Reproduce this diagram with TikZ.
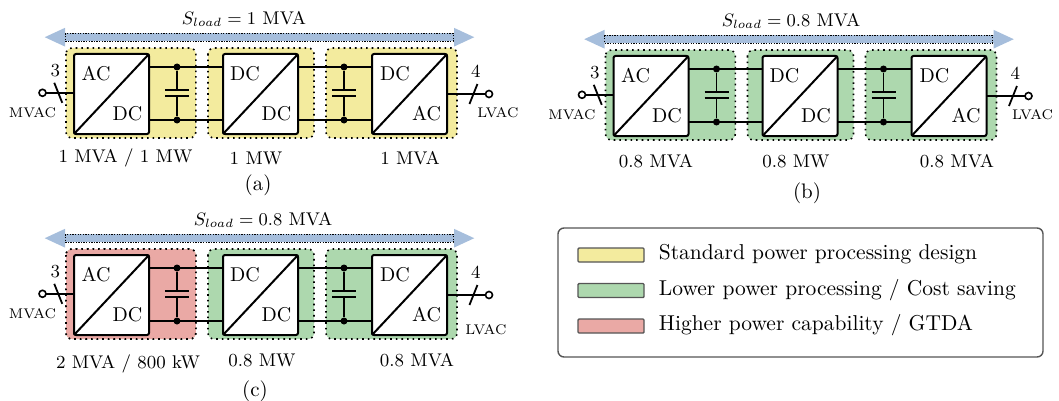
\documentclass[tikz,border=0pt]{standalone}
\usetikzlibrary{arrows.meta,positioning,calc,backgrounds}
\definecolor{standard}{HTML}{F3EB9E}
\definecolor{lower}{HTML}{ADD8AE}
\definecolor{higher}{HTML}{EAA9A5}
\definecolor{flow}{HTML}{A6BEDC}
\definecolor{frame}{HTML}{555555}
\tikzset{conv/.style={draw,line width=1pt,rounded corners=1pt,fill=white,minimum width=37.5pt,minimum height=40pt,inner sep=0pt,outer sep=0pt},wire/.style={line width=.9pt},port/.style={font=\fontsize{10}{12}\selectfont,inner sep=0pt},zone/.style={dotted,line width=.8pt,rounded corners=3pt},dotnode/.style={circle,fill,inner sep=0pt,minimum size=3.5pt},term/.style={circle,draw,line width=.8pt,fill=white,inner sep=0pt,minimum size=3.5pt,outer sep=0pt},tag/.style={font=\fontsize{7}{9}\selectfont,inner sep=0pt},lbl/.style={font=\fontsize{9.2}{12}\selectfont,inner sep=0pt},capt/.style={font=\fontsize{10.5}{12}\selectfont,inner sep=0pt},swatch/.style={draw=frame,line width=.7pt,rounded corners=.5pt,minimum width=33pt,minimum height=7pt,inner sep=0pt,outer sep=0pt},legtext/.style={font=\fontsize{10.75}{12}\selectfont,inner sep=0pt,text height=1.6ex,text depth=.5ex,anchor=west},band/.style={{Triangle[length=10.5pt,width=8.5pt]}-{Triangle[length=10.5pt,width=8.5pt]},line width=3.8pt,draw=flow,fill=flow},outline/.style={dash pattern=on .65pt off .65pt,line width=.45pt}}
\newcommand{\powerchain}[4]{%
\node[conv] (#1c1) at (#2,#3) {};\node[conv,right=37pt of #1c1] (#1c2) {};\node[conv,right=37pt of #1c2] (#1c3) {};
\foreach \c in {1,2,3} \draw[conv,fill=none] (#1c\c.south west) -- (#1c\c.north east);
\node[port] (#1t1) at ([shift={(-7.75pt,10pt)}]#1c1.center) {AC};\node[port] (#1b1) at ([shift={(8pt,-10pt)}]#1c1.center) {DC};
\node[port] (#1t2) at ([shift={(-7.75pt,10pt)}]#1c2.center) {DC};\node[port] (#1b2) at ([shift={(8pt,-10pt)}]#1c2.center) {DC};
\node[port] (#1t3) at ([shift={(-7.25pt,10pt)}]#1c3.center) {DC};\node[port] (#1b3) at ([shift={(8.5pt,-10pt)}]#1c3.center) {AC};
\coordinate (#1e1t) at ([yshift=13.5pt]#1c1.east);\coordinate (#1e1b) at ([yshift=-13pt]#1c1.east);\coordinate (#1w2t) at ([yshift=13.5pt]#1c2.west);\coordinate (#1w2b) at ([yshift=-13pt]#1c2.west);
\coordinate (#1e2t) at ([yshift=13.5pt]#1c2.east);\coordinate (#1e2b) at ([yshift=-13pt]#1c2.east);\coordinate (#1w3t) at ([yshift=13.5pt]#1c3.west);\coordinate (#1w3b) at ([yshift=-13pt]#1c3.west);
\node[dotnode] (#1d1t) at ([xshift=14pt]#1e1t) {};\node[dotnode] (#1d1b) at ([xshift=14pt]#1e1b) {};\node[dotnode] (#1d2t) at ([xshift=-14pt]#1w3t) {};\node[dotnode] (#1d2b) at ([xshift=-14pt]#1w3b) {};
\draw[wire] (#1e1t) -- (#1w2t);\draw[wire] (#1e1b) -- (#1w2b);\draw[wire] (#1e2t) -- (#1w3t);\draw[wire] (#1e2b) -- (#1w3b);
\foreach \d in {1,2} {\coordinate (#1p\d t) at ($(#1d\d t)!.5!(#1d\d b)+(0,1.9pt)$);\coordinate (#1p\d b) at ($(#1d\d t)!.5!(#1d\d b)+(0,-1.1pt)$);
\draw[wire] (#1d\d t) -- (#1p\d t);\draw[wire] (#1d\d b) -- (#1p\d b);\draw[wire] ([xshift=-6pt]#1p\d t) -- ([xshift=6pt]#1p\d t);\draw[wire] ([xshift=-6pt]#1p\d b) -- ([xshift=6pt]#1p\d b);}
\node[term,left=14pt of #1c1,yshift=.6pt] (#1in) {};\node[term,right=19.25pt of #1c3] (#1out) {};
\draw[wire] (#1in) -- (#1in-|#1c1.west);\draw[wire] (#1c3.east) -- (#1out);
\coordinate (#1s1) at ($(#1in)!.5!(#1in-|#1c1.west)$);\coordinate (#1s2) at ($(#1c3.east)!.63!(#1out)$);
\draw[wire] ([shift={(-2pt,5pt)}]#1s1) -- ([shift={(2pt,-5pt)}]#1s1);\draw[wire] ([shift={(2pt,5pt)}]#1s2) -- ([shift={(-2pt,-5pt)}]#1s2);
\node[lbl] (#1n1) at ([shift={(-1.5pt,11pt)}]#1s1) {3};\node[lbl] (#1n2) at ([shift={(1.25pt,11.5pt)}]#1s2) {4};
\coordinate (#1la) at ([shift={(-33.75pt,28.4pt)}]#1c1.center);\coordinate (#1ra) at ([shift={(32.75pt,28.4pt)}]#1c3.center);
\draw[band] (#1la) -- (#1ra);
\draw[outline] ([shift={(-23.25pt,30.3pt)}]#1c1.center) rectangle ([shift={(21.75pt,26.5pt)}]#1c3.center);
\begin{scope}[on background layer]
\draw[zone,fill=#4] ([shift={(-4pt,3pt)}]#1c1.north west) rectangle ([shift={(23.4pt,-2pt)}]#1c1.south east);
\draw[zone,fill=#4] ([shift={(-7.5pt,3pt)}]#1c2.north west) rectangle ([shift={(8pt,-2pt)}]#1c2.south east);
\draw[zone,fill=#4] ([shift={(-23pt,3pt)}]#1c3.north west) rectangle ([shift={(5pt,-2pt)}]#1c3.south east);
\end{scope}}
\begin{document}
\begin{tikzpicture}[x=.5pt,y=-.5pt]
\useasboundingbox (0,0) rectangle (1059,401);
\powerchain{a}{111.5}{94}{standard}
\powerchain{b}{651}{96}{lower}
\powerchain{c}{111.5}{295}{lower}
\begin{scope}[on background layer]\draw[zone,fill=higher] ([shift={(-4pt,3pt)}]cc1.north west) rectangle ([shift={(23.4pt,-2pt)}]cc1.south east);\end{scope}
\node[lbl] (aload) at (244,19) {$S_{load}=1$ MVA};\node[lbl] (bload) at (791,21) {$S_{load}=0.8$ MVA};\node[lbl] (cload) at (263,220) {$S_{load}=0.8$ MVA};
\node[tag] (amv) at ([shift={(-5pt,-9.8pt)}]ain) {MVAC};\node[tag] (bmv) at ([shift={(-5pt,-9.8pt)}]bin) {MVAC};\node[tag] (cmv) at ([shift={(-5pt,-9.8pt)}]cin) {MVAC};
\node[tag] (alv) at ([shift={(4.5pt,-9.5pt)}]aout) {LVAC};\node[tag] (blv) at ([shift={(2pt,-9.5pt)}]bout) {LVAC};\node[tag] (clv) at ([shift={(-1.5pt,-17.25pt)}]cout) {LVAC};
\node[lbl] (ar1) at (125.5,158) {1 MVA / 1 MW};\node[lbl] (ar2) at (256,158) {1 MW};\node[lbl] (ar3) at (410,158) {1 MVA};\node[capt] (acap) at (258,185) {(a)};
\node[lbl] (br1) at (656,161) {0.8 MVA};\node[lbl] (br2) at (796,161) {0.8 MW};\node[lbl] (br3) at (957,161) {0.8 MVA};\node[capt] (bcap) at (807,193) {(b)};
\node[lbl] (cr1) at (128,364) {2 MVA / 800 kW};\node[lbl] (cr2) at (262,360) {0.8 MW};\node[lbl] (cr3) at (417,360) {0.8 MVA};\node[capt] (ccap) at (255,391) {(c)};
\node[draw=frame,line width=.7pt,rounded corners=3pt,minimum width=242.5pt,minimum height=64.5pt,inner sep=0pt] (legend) at (800.5,292.5) {};
\node[swatch,fill=standard] (sw1) at (611,255) {};\node[swatch,fill=lower,below=10.75pt of sw1] (sw2) {};\node[swatch,fill=higher,below=10.75pt of sw2] (sw3) {};
\node[legtext,right=7.25pt of sw1] (lg1) {Standard power processing design};\node[legtext,right=7.25pt of sw2] (lg2) {Lower power processing / Cost saving};\node[legtext,right=7.25pt of sw3] (lg3) {Higher power capability / GTDA};
\end{tikzpicture}
\end{document}
